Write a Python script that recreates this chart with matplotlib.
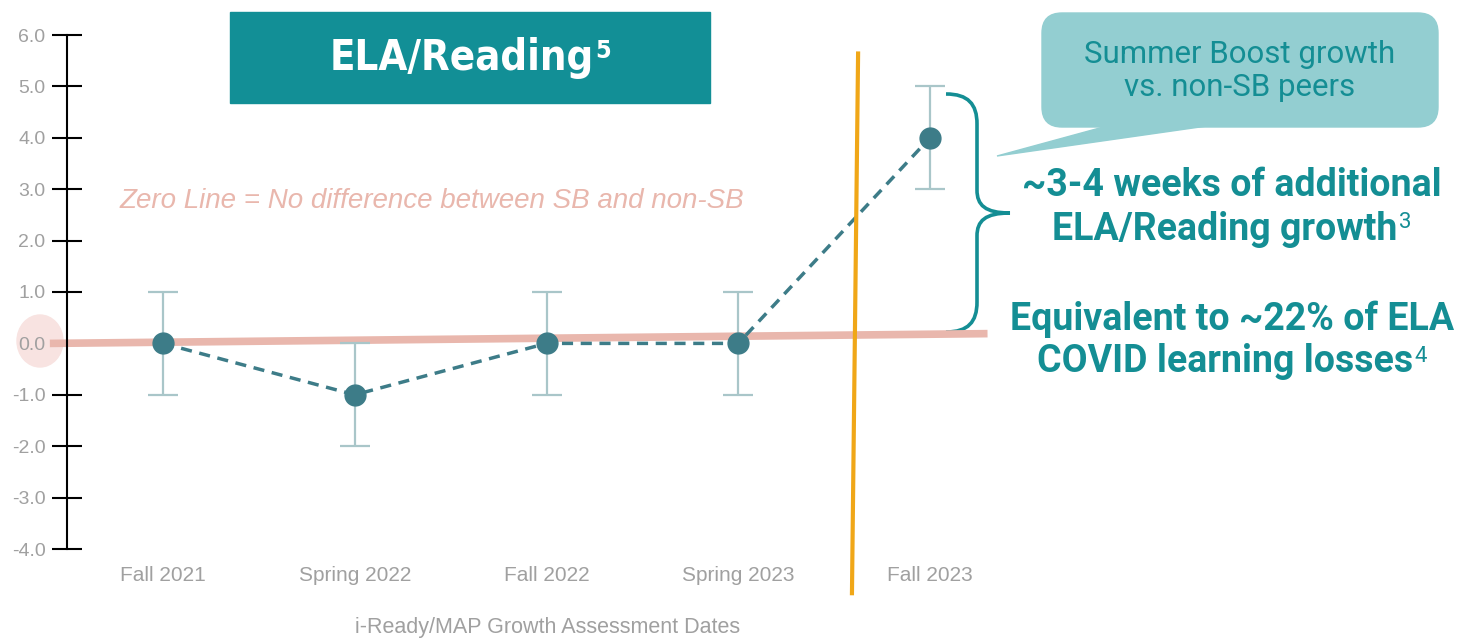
import numpy as np
import matplotlib
matplotlib.use("Agg")
import matplotlib.pyplot as plt
from matplotlib.patches import FancyBboxPatch, Rectangle, Ellipse, Polygon, PathPatch
from matplotlib.path import Path

W, H = 1457, 639

# data
dates = ["Fall 2021", "Spring 2022", "Fall 2022", "Spring 2023", "Fall 2023"]
growth = [0, -1, 0, 0, 4]
err = [1, 1, 1, 1, 1]
yticks = [-4, -3, -2, -1, 0, 1, 2, 3, 4, 5, 6]
zero_line_x = [-0.59, 4.30]
zero_line_y = [0.0, 0.19]
divider_x = [3.625, 3.593]
divider_y = [5.64, -4.86]

teal = "#148e94"
dark = "#3d7c88"
grey = "#a0a0a0"

plt.rcParams["font.family"] = ["Liberation Sans", "DejaVu Sans"]

fig = plt.figure(figsize=(W / 100, H / 100), dpi=100)
fig.patch.set_facecolor("white")

# overlay in pixel coords for the slide decoration
ov = fig.add_axes([0, 0, 1, 1])
ov.set_xlim(0, W)
ov.set_ylim(H, 0)
ov.axis("off")
ov.set_zorder(0)

ax = fig.add_axes([67 / W, 90 / H, (W - 67) / W, 514 / H])
ax.set_zorder(1)
ax.patch.set_visible(False)
ax.set_xlim(-(163 - 67) / 191.75, (W - 163) / 191.75)
ax.set_ylim(-4, 6)

x = np.arange(len(dates))

# pink dot at zero label
ov.add_patch(Ellipse((40, 341), 46, 52, color="#f8e3e1", zorder=0))

ax.plot(zero_line_x, zero_line_y, color="#e9b7ad", lw=5.5, solid_capstyle="butt",
        clip_on=False, zorder=2)
ax.errorbar(x, growth, yerr=err, fmt="none", ecolor="#a9c6c9", elinewidth=1.6,
            capsize=11, capthick=1.6, zorder=3)
ax.plot(x, growth, ls=(0, (3.2, 2.2)), color=dark, lw=2.5, zorder=4)
ax.plot(x, growth, "o", color=dark, ms=15, zorder=5)
ax.plot(divider_x, divider_y, color="#f0a718", lw=3, clip_on=False, zorder=6)

for s in ["top", "right", "bottom"]:
    ax.spines[s].set_visible(False)
ax.spines["left"].set_linewidth(1.5)
ax.set_yticks(yticks)
ax.set_yticklabels(["%.1f" % v for v in yticks])
ax.tick_params(axis="y", direction="inout", length=21, width=1.5, color="black",
               labelcolor=grey, labelsize=14, pad=5)
ax.set_xticks(x)
ax.set_xticklabels(dates)
ax.tick_params(axis="x", length=0, labelcolor=grey, labelsize=15, pad=12)

fig.text(548 / W, 1 - 628 / H, "i-Ready/MAP Growth Assessment Dates", color=grey,
         fontsize=15.5, ha="center", va="center")

ov.text(120, 201, "Zero Line = No difference between SB and non-SB",
        color="#e9b7ad", fontsize=20, style="italic", ha="left", va="center")

# title box
ov.add_patch(Rectangle((230, 12), 480, 91, color="#128f96", zorder=1))

renderer = fig.canvas.get_renderer()


def with_sup(xc, yc, main, sup, size, sup_size, color, weight, family,
             stretch="normal", sup_weight="normal"):
    t = ov.text(xc, yc, main, fontsize=size, color=color, weight=weight, family=family,
                fontstretch=stretch, ha="center", va="center", zorder=10)
    bb = t.get_window_extent(renderer)
    inv = ov.transData.inverted()
    x1, y1 = inv.transform((bb.x1, bb.y1))
    ov.text(x1 + 1, y1 + 2, sup, fontsize=sup_size, color=color, weight=sup_weight,
            family=family, fontstretch=stretch, ha="left", va="top", zorder=10)


with_sup(462, 58, "ELA/Reading", "5", 30, 18, "white", "bold",
         ["DejaVu Sans", "Liberation Sans"], stretch="condensed", sup_weight="bold")

# speech bubble
ov.add_patch(FancyBboxPatch((1042, 13), 396, 114, boxstyle="round,pad=0,rounding_size=20",
                            color="#93ced1", zorder=1))
ov.add_patch(Polygon([(1107, 126), (1207, 126), (997, 156)], closed=True,
                     color="#93ced1", zorder=1))
ov.text(1240, 71, "Summer Boost growth\nvs. non-SB peers", color=teal, fontsize=22.5,
        family="Roboto", ha="center", va="center", linespacing=1.15, zorder=10)

# brace
verts = [(946, 94), (968, 94), (977, 104), (977, 124),
         (977, 190),
         (977, 205), (985, 213), (1010, 213),
         (985, 213), (977, 221), (977, 236),
         (977, 302),
         (977, 322), (968, 332), (946, 332)]
codes = [Path.MOVETO, Path.CURVE4, Path.CURVE4, Path.CURVE4,
         Path.LINETO,
         Path.CURVE4, Path.CURVE4, Path.CURVE4,
         Path.CURVE4, Path.CURVE4, Path.CURVE4,
         Path.LINETO,
         Path.CURVE4, Path.CURVE4, Path.CURVE4]
ov.add_patch(PathPatch(Path(verts, codes), fill=False, ec=teal, lw=2.6, zorder=8))

ov.text(1232, 185, "~3-4 weeks of additional", color=teal, fontsize=27, weight="bold",
        family="Roboto", ha="center", va="center", zorder=10)
with_sup(1225, 229, "ELA/Reading growth", "3", 27, 16, teal, "bold", "Roboto")
ov.text(1232, 319, "Equivalent to ~22% of ELA", color=teal, fontsize=27, weight="bold",
        family="Roboto", ha="center", va="center", zorder=10)
with_sup(1225, 362, "COVID learning losses", "4", 27, 16, teal, "bold", "Roboto")

fig.savefig("out.png", dpi=100)
